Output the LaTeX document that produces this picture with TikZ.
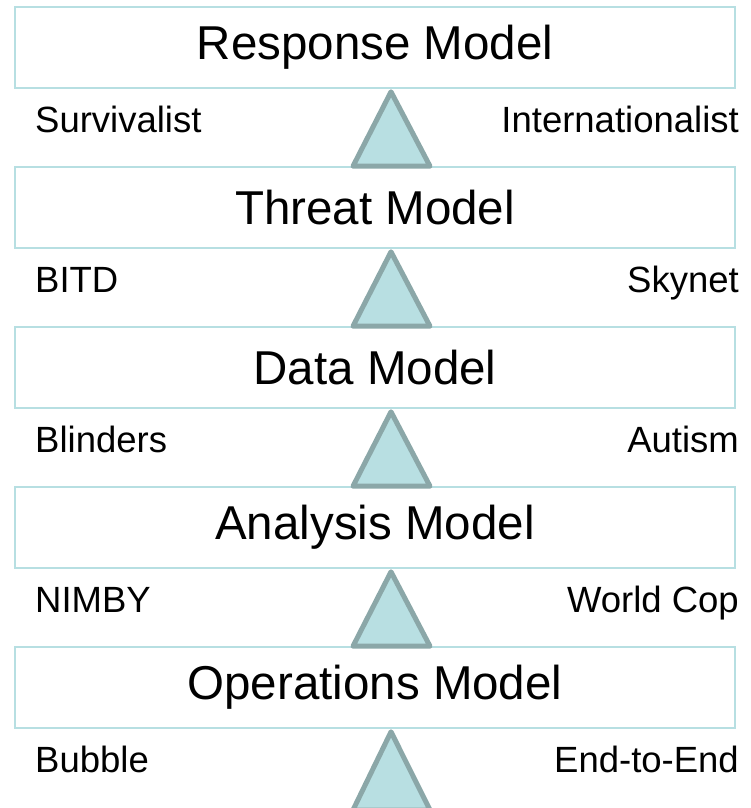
\documentclass[tikz,border=0pt]{standalone}
\usepackage{fontspec}
\setmainfont{Liberation Sans}
\usetikzlibrary{calc}
\definecolor{boxline}{HTML}{B7DFE2}
\definecolor{trifill}{HTML}{B8DFE2}
\definecolor{triline}{HTML}{8BA7A8}
\begin{document}
\begin{tikzpicture}[x=1pt,y=-1pt,
  model/.style={draw=boxline,line width=1.6pt,minimum width=720pt,minimum height=81pt,inner sep=0pt,
    font=\fontsize{47.5}{50}\selectfont},
  lbl/.style={inner sep=0pt,font=\fontsize{36.5}{38}\selectfont},
  tri/.style={draw=triline,fill=trifill,line width=5pt,line join=round}]
\useasboundingbox (0,0) rectangle (751,808);
\node[model] (b1) at (375,47.5) {Response Model};
\node[model] (b2) at (375,207.5) {Threat Model};
\node[model] (b3) at (375,367.5) {Data Model};
\node[model] (b4) at (375,527.5) {Analysis Model};
\node[model] (b5) at (375,687.5) {Operations Model};
\coordinate (bot) at (375,810);
\foreach \u/\l in {b1/b2,b2/b3,b3/b4,b4/b5,b5/bot}{
  \draw[tri] ($(\u.south)+(16,3)$) -- ($(\l.north)+(55,0)$) -- ($(\l.north)+(-22,0)$) -- cycle;
}
\node[lbl,anchor=base west] (l1) at (35,132.5) {Survivalist};
\node[lbl,anchor=base east] (r1) at (739,132.5) {Internationalist};
\node[lbl,anchor=base west] (l2) at (35,292.5) {BITD};
\node[lbl,anchor=base east] (r2) at (739,292.5) {Skynet};
\node[lbl,anchor=base west] (l3) at (35,452.5) {Blinders};
\node[lbl,anchor=base east] (r3) at (739,452.5) {Autism};
\node[lbl,anchor=base west] (l4) at (35,612.5) {NIMBY};
\node[lbl,anchor=base east] (r4) at (739,612.5) {World Cop};
\node[lbl,anchor=base west] (l5) at (35,772.5) {Bubble};
\node[lbl,anchor=base east] (r5) at (739,772.5) {End-to-End};
\end{tikzpicture}
\end{document}
